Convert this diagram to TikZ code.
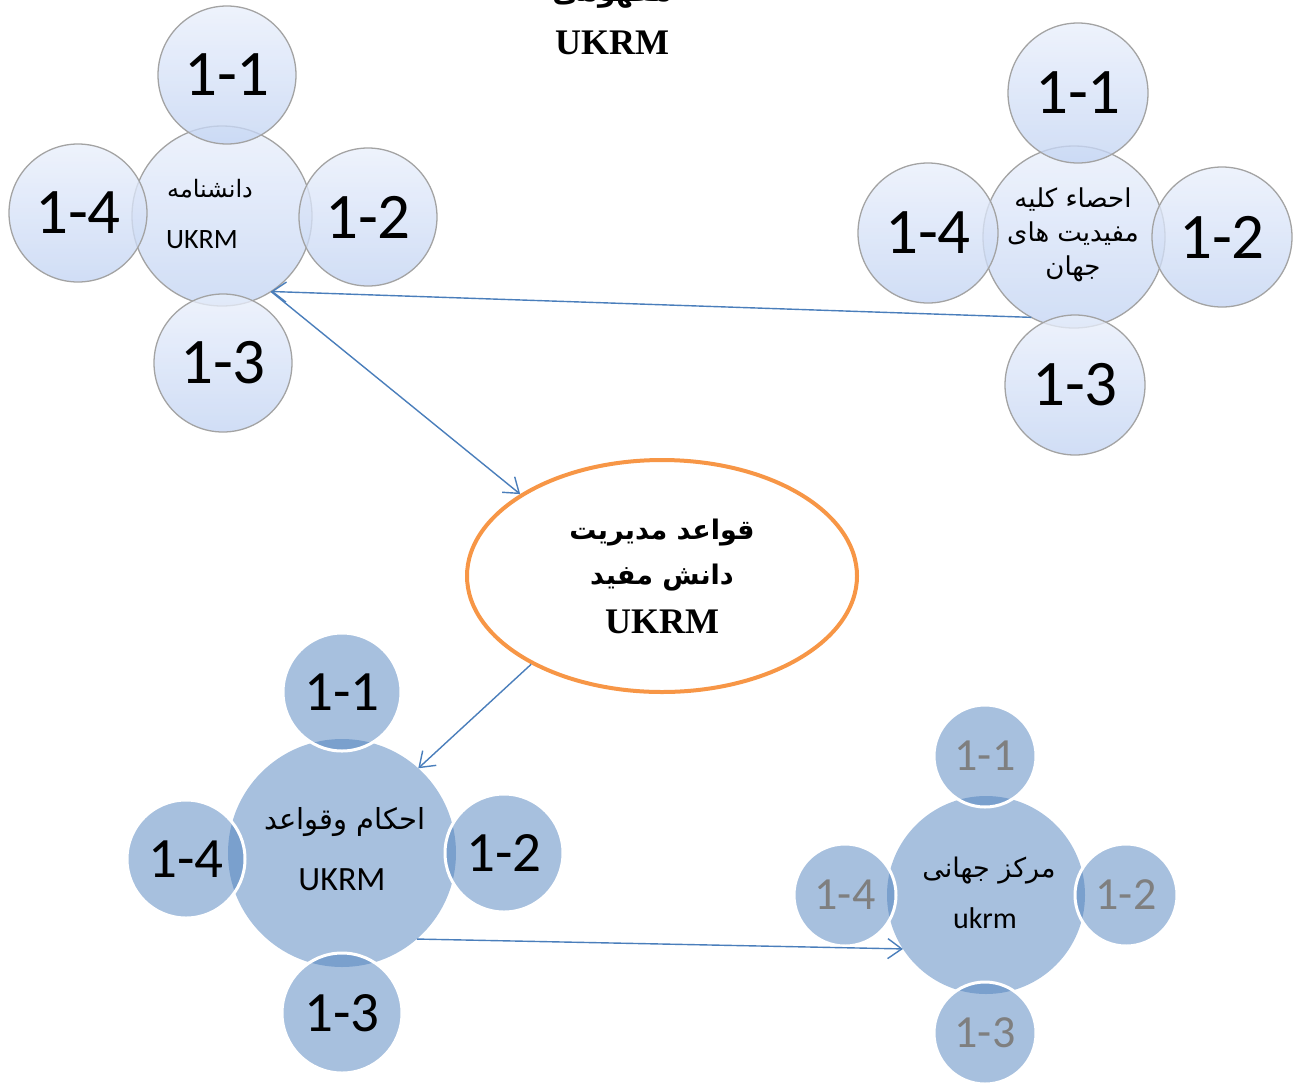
\documentclass[tikz,border=0pt]{standalone}
\usepackage{fontspec}
\setmainfont{Carlito}
\newfontfamily\fa[Script=Arabic]{DejaVu Sans}
\newfontfamily\tnr{Liberation Serif}
\TeXXeTstate=1
\usetikzlibrary{arrows.meta,shapes.geometric}
\definecolor{arrowblue}{HTML}{4A7EBB}
\definecolor{ringgray}{HTML}{A3A3A3}
\definecolor{gtop}{HTML}{E9EFFB}
\definecolor{gbot}{HTML}{C3D4F3}
\definecolor{accblue}{HTML}{4F81BD}
\definecolor{orangeedge}{HTML}{F79646}
\definecolor{numgray}{HTML}{7F7F7F}
\newcommand\fsz[2]{\fontsize{#1}{#2}\selectfont}
\begin{document}
\begin{tikzpicture}[x=1pt,y=-1pt,
  glass/.style={circle, inner sep=0pt, outer sep=0pt, draw=ringgray, line width=1.3pt,
    top color=gtop, bottom color=gbot, fill opacity=0.78, text opacity=1},
  solid/.style={circle, inner sep=0pt, outer sep=0pt, fill=accblue, fill opacity=0.5, text opacity=1},
  sat/.style={solid, draw=white, line width=3pt},
  bignum/.style={font=\fsz{65}{70}},
  midnum/.style={font=\fsz{57}{62}},
  smallnum/.style={font=\fsz{46}{50}, text=numgray},
  conn/.style={draw=arrowblue, line width=1.4pt, -{Straight Barb[length=14pt,width=20pt,line width=1.4pt]}},
  txt/.style={inner sep=0pt, align=center}
]
\useasboundingbox (0,0) rectangle (1296,1085);
\clip (0,0) rectangle (1296,1085);

% ---- top title ----
\node[txt, font=\fa\bfseries\fsz{28}{34}] (ttlfa) at (612,-4) {\beginR مفهومی\endR};
\node[txt, font=\tnr\bfseries\fsz{36}{40}] (ttlen) at (612,43) {UKRM};

% ---- top-left group ----
\node[glass, minimum size=180pt] (TLc) at (222,216) {};
\node[glass, minimum size=138pt, bignum] (TL1) at (227,75) {1-1};
\node[glass, minimum size=138pt, bignum] (TL4) at (78,213) {1-4};
\node[glass, minimum size=138pt, bignum] (TL2) at (368,217) {1-2};
\node[glass, minimum size=138pt, bignum] (TL3) at (223,363) {1-3};
\node[txt, font=\fa\fsz{24}{28}] (TLt1) at (210,189) {\beginR دانشنامه\endR};
\node[txt, font=\fsz{28}{32}] (TLt2) at (202,240) {UKRM};

% ---- top-right group ----
\node[glass, minimum size=182pt] (TRc) at (1074,237) {};
\node[glass, minimum size=140pt, bignum] (TR1) at (1078,93) {1-1};
\node[glass, minimum size=140pt, bignum] (TR4) at (928,233) {1-4};
\node[glass, minimum size=140pt, bignum] (TR2) at (1222,237) {1-2};
\node[glass, minimum size=140pt, bignum] (TR3) at (1075,385) {1-3};
\node[txt, font=\fa\fsz{26}{34}] (TRt) at (1073,235)
  {\beginR احصاء کلیه\endR\\\beginR مفیدیت های\endR\\\beginR جهان\endR};

% ---- central ellipse ----
\node[ellipse, draw=orangeedge, line width=4pt, fill=white, inner sep=0pt,
  minimum width=390pt, minimum height=232pt] (E) at (662,576) {};
\node[txt, font=\fa\bfseries\fsz{27}{45}] (Et1) at (662,555)
  {\beginR قواعد مدیریت\endR\\\beginR دانش مفید\endR};
\node[txt, font=\tnr\bfseries\fsz{36}{40}] (Et2) at (662,622) {UKRM};

% ---- bottom-left group ----
\node[solid, minimum size=228pt] (BLc) at (342,853) {};
\node[sat, minimum size=118pt, midnum] (BL1) at (342,692) {1-1};
\node[sat, minimum size=118pt, midnum] (BL4) at (186,859) {1-4};
\node[sat, minimum size=118pt, midnum] (BL2) at (504,853) {1-2};
\node[sat, minimum size=120pt, midnum] (BL3) at (342,1013) {1-3};
\node[txt, font=\fa\fsz{29}{32}] (BLt1) at (345,822) {\beginR احکام وقواعد\endR};
\node[txt, font=\fsz{34}{38}] (BLt2) at (342,880) {UKRM};

% ---- bottom-right group ----
\node[solid, minimum size=198pt] (BRc) at (986,895) {};
\node[sat, minimum size=102pt, smallnum] (BR1) at (985,756) {1-1};
\node[sat, minimum size=102pt, smallnum] (BR4) at (845,895) {1-4};
\node[sat, minimum size=102pt, smallnum] (BR2) at (1126,895) {1-2};
\node[sat, minimum size=102pt, smallnum] (BR3) at (985,1033) {1-3};
\node[txt, font=\fa\fsz{27}{30}] (BRt1) at (989,871) {\beginR مرکز جهانی\endR};
\node[txt, font=\fsz{30}{34}] (BRt2) at (985,918) {ukrm};

% ---- connectors ----
\draw[conn] (TRc.242) -- (TLc.303);
\draw[conn] (TLc.303) -- (E.150);
\draw[conn] (E.214) -- (BLc.48);
\draw[conn] (BLc.-49) -- (BRc.213);
\end{tikzpicture}
\end{document}
